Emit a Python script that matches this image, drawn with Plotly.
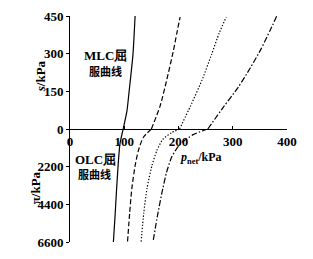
import plotly.graph_objects as go

# ---- data ----
# upper panel: s (kPa) vs p_net (kPa)
s_vals = [0, 72, 150, 295, 450]
mlc_solid = [98, 105, 109, 116, 120]

s_dash = [0, 91, 193, 306, 382, 446]
mlc_dash = [150, 166, 178, 190, 197, 203]

s_dot = [0, 91, 193, 297, 382, 446]
mlc_dot = [202, 222, 243, 261, 275, 288]

s_dashdot = [0, 91, 166, 242, 318, 393, 454]
mlc_dashdot = [254, 284, 310, 332, 352, 369, 382]

# lower panel: pi (kPa) vs p_net (kPa)
pi_solid = [0, 880, 1980, 3450, 5100, 6600]
olc_solid = [98, 92, 89, 86, 83, 80]

pi_dash = [0, 495, 1265, 2145, 3465, 4895, 6600]
olc_dash = [150, 135, 126, 120, 114, 110, 106]

pi_dot = [0, 220, 605, 1265, 2145, 3465, 4895, 6600]
olc_dot = [202, 187, 171, 160, 151, 142, 136, 131]

pi_dashdot = [0, 330, 880, 1595, 2530, 3795, 5280, 6600]
olc_dashdot = [254, 227, 203, 188, 178, 169, 160, 153]

x_ticks = [0, 100, 200, 300, 400]
s_ticks = [0, 150, 300, 450]
pi_ticks = [2200, 4400, 6600]

SERIF = "Liberation Serif"
CJK = "Noto Sans CJK SC"
LW = 1.2
styles = ["solid", "5px,2.5px", "1.3px,1.8px", "6px,2px,1.5px,2px"]

W, H = 313, 259
ML, MR, MT, MB = 70, 26, 9, 10

fig = go.Figure()
upper = [(mlc_solid, s_vals), (mlc_dash, s_dash), (mlc_dot, s_dot), (mlc_dashdot, s_dashdot)]
lower = [(olc_solid, pi_solid), (olc_dash, pi_dash), (olc_dot, pi_dot), (olc_dashdot, pi_dashdot)]
for (xv, yv), d in zip(upper, styles):
    fig.add_trace(go.Scatter(x=xv, y=yv, mode="lines",
                             line=dict(color="black", width=LW, dash=d, shape="spline", smoothing=0.6),
                             xaxis="x", yaxis="y", showlegend=False, hoverinfo="skip"))
for (xv, yv), d in zip(lower, styles):
    fig.add_trace(go.Scatter(x=xv, y=yv, mode="lines",
                             line=dict(color="black", width=LW, dash=d, shape="spline", smoothing=0.6),
                             xaxis="x2", yaxis="y2", showlegend=False, hoverinfo="skip"))

tf = dict(family=SERIF, size=13, color="black", weight="bold")
fig.update_layout(
    width=W, height=H,
    margin=dict(l=ML, r=MR, t=MT, b=MB),
    paper_bgcolor="white", plot_bgcolor="white",
    font=dict(family=SERIF, size=12, color="black"),
    xaxis=dict(domain=[0, 1], anchor="y", range=[0, 400], tickvals=x_ticks,
               showline=True, linecolor="black", linewidth=1, ticks="inside", ticklen=3,
               tickcolor="black", showgrid=False, zeroline=False, side="bottom",
               tickfont=tf),
    xaxis2=dict(domain=[0, 1], anchor="y2", matches="x", range=[0, 400], visible=False),
    yaxis=dict(domain=[0.5, 1], anchor="x", range=[0, 450], tickvals=s_ticks,
               showline=True, linecolor="black", linewidth=1, ticks="outside", ticklen=3,
               tickcolor="black", showgrid=False, zeroline=False, tickfont=tf),
    yaxis2=dict(domain=[0, 0.5], anchor="x2", range=[6600, 0], tickvals=pi_ticks,
                showline=True, linecolor="black", linewidth=1, ticks="outside", ticklen=3,
                tickcolor="black", showgrid=False, zeroline=False, tickfont=tf),
)

bf = dict(family=SERIF, size=13, weight="bold")
ann = [
    dict(text="<i>s</i>/kPa", x=40, y=73, textangle=-90, font=bf),
    dict(text="π/kPa", x=35, y=192, textangle=-90, font=bf),
    dict(text="MLC屈", x=105, y=51, font=bf),
    dict(text="服曲线", x=105, y=67, font=dict(family=CJK, size=11, weight="bold")),
    dict(text="OLC屈", x=95, y=161, font=bf),
    dict(text="服曲线", x=94, y=177, font=dict(family=CJK, size=11, weight="bold")),
    dict(text="<i>p</i><sub>net</sub>/kPa", x=201, y=160, font=dict(family=SERIF, size=12, weight="bold")),
]
pw = W - ML - MR
ph = H - MT - MB
for a in ann:
    fig.add_annotation(xref="paper", yref="paper",
                       x=(a["x"] - ML) / pw, y=1 - (a["y"] - MT) / ph,
                       xanchor="center", yanchor="middle", showarrow=False,
                       text=a["text"], textangle=a.get("textangle", 0), font=a["font"])

fig.write_html("out.html")
